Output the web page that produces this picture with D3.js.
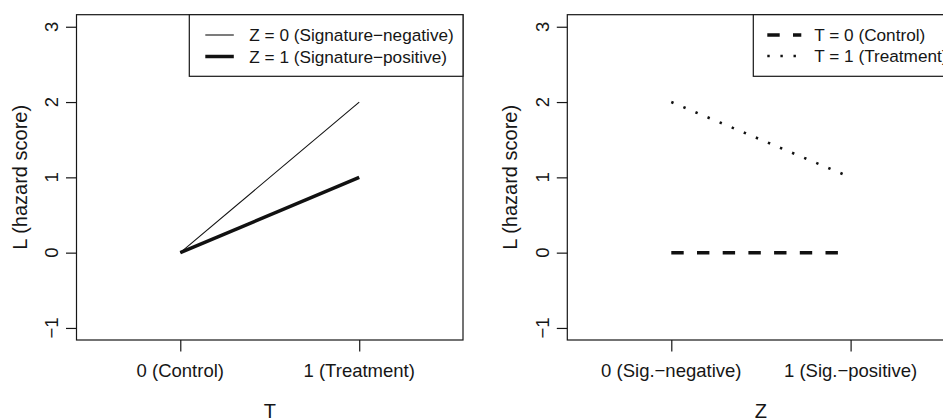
<!DOCTYPE html>
<html>
<head>
<meta charset="utf-8">
<script src="https://cdn.jsdelivr.net/npm/d3@7"></script>
<style>
  html, body { margin: 0; padding: 0; background: #fff; }
  svg { display: block; font-family: "Liberation Sans", Arial, Helvetica, sans-serif; }
</style>
</head>
<body>
<svg id="chart" width="943" height="420"></svg>
<script>
// ---- data ----
const yTicks = [-1, 0, 1, 2, 3];
const yTickLabels = ["\u22121", "0", "1", "2", "3"];
const yTitle = "L (hazard score)";

// left panel: L vs T, by Z
const tLevels = [0, 1];
const tLabels = ["0 (Control)", "1 (Treatment)"];
const leftXTitle = "T";
const leftSeriesNames = ["Z = 0 (Signature\u2212negative)", "Z = 1 (Signature\u2212positive)"];
const lZ0 = [0, 2];
const lZ1 = [0, 1];

// right panel: L vs Z, by T
const zLevels = [0, 1];
const zLabels = ["0 (Sig.\u2212negative)", "1 (Sig.\u2212positive)"];
const rightXTitle = "Z";
const rightSeriesNames = ["T = 0 (Control)", "T = 1 (Treatment)"];
const lT0 = [0, 0];
const lT1 = [2, 1];

// ---- drawing ----
const svg = d3.select("#chart");
const ink = "#161616";
const plotTop = 14.7, plotBottom = 340;
const y = d3.scaleLinear().domain([-1.16, 3.16]).range([plotBottom, plotTop]);

function panel(x0, x1, levels, labels, xTitle, series, legend) {
  const g = svg.append("g");
  const x = d3.scaleLinear().domain([-0.58, 1.58]).range([x0, x1]);

  // box
  g.append("rect").attr("x", x0).attr("y", plotTop).attr("width", x1 - x0).attr("height", plotBottom - plotTop)
    .attr("fill", "none").attr("stroke", ink).attr("stroke-width", 1.2);

  // y axis
  const ya = d3.axisLeft(y).tickValues(yTicks).tickSize(10.5).tickFormat("");
  const yg = g.append("g").attr("transform", `translate(${x0},0)`).call(ya);
  yg.select(".domain").remove();
  yg.selectAll(".tick line").attr("stroke", ink).attr("stroke-width", 1.2);
  yTicks.forEach((v, i) => {
    g.append("text").attr("transform", `translate(${x0 - 18.5},${y(v)}) rotate(-90)`)
      .attr("text-anchor", "middle").attr("font-size", 18.5).attr("fill", ink).text(yTickLabels[i]);
  });

  // x axis
  const xa = d3.axisBottom(x).tickValues(levels).tickSize(11.5).tickFormat("");
  const xg = g.append("g").attr("transform", `translate(0,${plotBottom})`).call(xa);
  xg.select(".domain").remove();
  xg.selectAll(".tick line").attr("stroke", ink).attr("stroke-width", 1.2);
  levels.forEach((v, i) => {
    g.append("text").attr("x", x(v)).attr("y", 377).attr("text-anchor", "middle")
      .attr("font-size", 18.5).attr("fill", ink).text(labels[i]);
  });

  // titles
  g.append("text").attr("x", (x0 + x1) / 2).attr("y", 417.5).attr("text-anchor", "middle")
    .attr("font-size", 20).attr("fill", ink).text(xTitle);
  g.append("text").attr("transform", `translate(${x0 - 50},${(plotTop + plotBottom) / 2}) rotate(-90)`)
    .attr("text-anchor", "middle").attr("font-size", 20).attr("fill", ink).text(yTitle);

  // series
  const line = d3.line().x((d, i) => x(levels[i])).y(d => y(d));
  series.forEach(s => {
    g.append("path").attr("d", line(s.values)).attr("fill", "none")
      .attr("stroke", "#111").attr("stroke-width", s.w)
      .attr("stroke-dasharray", s.dash || null).attr("stroke-linecap", "butt");
  });

  // legend
  g.append("rect").attr("x", legend.x).attr("y", plotTop).attr("width", x1 - legend.x).attr("height", 76.3 - plotTop)
    .attr("fill", "#fff").attr("stroke", ink).attr("stroke-width", 1.2);
  series.forEach((s, i) => {
    const ly = legend.rows[i];
    g.append("line").attr("x1", legend.x + legend.segStart).attr("x2", legend.x + legend.segStart + legend.segLen)
      .attr("y1", ly).attr("y2", ly).attr("stroke", "#111").attr("stroke-width", s.w)
      .attr("stroke-dasharray", s.dash || null);
    g.append("text").attr("x", legend.x + legend.textStart).attr("y", ly).attr("dy", "0.35em")
      .attr("font-size", 17.2).attr("fill", ink).text(s.name);
  });
}

panel(76.5, 463, tLevels, tLabels, leftXTitle, [
  { name: leftSeriesNames[0], values: lZ0, w: 1.1 },
  { name: leftSeriesNames[1], values: lZ1, w: 3.5 }
], { x: 189.3, rows: [35, 56.5], segStart: 16, segLen: 28.5, textStart: 60 });

panel(567.3, 954.6, zLevels, zLabels, rightXTitle, [
  { name: rightSeriesNames[0], values: lT0, w: 3.5, dash: "12.4,13.3" },
  { name: rightSeriesNames[1], values: lT1, w: 2.6, dash: "2.4,10.7" }
], { x: 753.3, rows: [35, 56], segStart: 14, segLen: 34, textStart: 61 });
</script>
</body>
</html>
